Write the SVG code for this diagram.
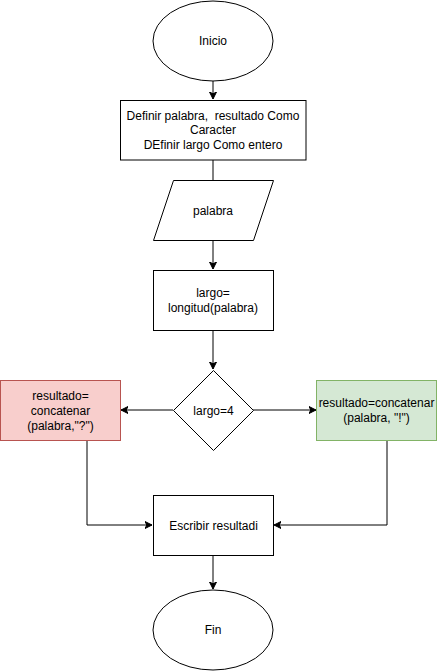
<svg xmlns="http://www.w3.org/2000/svg" width="437" height="671" viewBox="0 0 437 671">
<defs>
<style>
.s{fill:#fff;stroke:#000;stroke-width:1}
.t{font-family:"Liberation Sans",Arial,sans-serif;font-size:12px;fill:#000;text-anchor:middle;dominant-baseline:central}
.c{fill:none;stroke:#000;stroke-width:1}
</style>
<marker id="a" markerWidth="10" markerHeight="10" refX="7" refY="4" orient="auto" markerUnits="userSpaceOnUse">
<path d="M0,0.5 L7,4 L0,7.5 L1.8,4 Z" fill="#000" stroke="#000" stroke-width="1"/>
</marker>
</defs>
<rect width="437" height="671" fill="#fff"/>
<g id="connectors">
<path class="c" d="M213,81 V99" marker-end="url(#a)"/>
<path class="c" d="M213,160 V180"/>
<path class="c" d="M213,240 V269" marker-end="url(#a)"/>
<path class="c" d="M213,330 V369" marker-end="url(#a)"/>
<path class="c" d="M173,410 H121" marker-end="url(#a)"/>
<path class="c" d="M253,410 H316" marker-end="url(#a)"/>
<path class="c" d="M87,440 V525 H152" marker-end="url(#a)"/>
<path class="c" d="M387,440 V525 H274" marker-end="url(#a)"/>
<path class="c" d="M213,555 V589" marker-end="url(#a)"/>
</g>
<g id="inicio">
<ellipse class="s" cx="213" cy="41" rx="60" ry="40"/>
<text class="t" x="213" y="41">Inicio</text>
</g>
<g id="definir">
<rect class="s" x="120.5" y="100.5" width="185.5" height="59.5"/>
<text class="t" x="213" y="115.5" xml:space="preserve">Definir palabra,  resultado Como</text>
<text class="t" x="213" y="130">Caracter</text>
<text class="t" x="213" y="145">DEfinir largo Como entero</text>
</g>
<g id="leer">
<polygon class="s" points="173.5,180.5 273.5,180.5 253.5,240.5 153.5,240.5"/>
<text class="t" x="213" y="210.5">palabra</text>
</g>
<g id="largo">
<rect class="s" x="153.5" y="270.5" width="120" height="60"/>
<text class="t" x="213" y="292.5">largo=</text>
<text class="t" x="213" y="308">longitud(palabra)</text>
</g>
<g id="decision">
<polygon class="s" points="213.5,370.5 253.5,410.5 213.5,450.5 173.5,410.5"/>
<text class="t" x="213.5" y="410.5">largo=4</text>
</g>
<g id="no">
<rect x="0.5" y="380.5" width="120" height="60" fill="#f8cecc" stroke="#b85450"/>
<text class="t" x="60.5" y="395.5">resultado=</text>
<text class="t" x="60.5" y="410.5">concatenar</text>
<text class="t" x="60.5" y="425.5">(palabra,"?")</text>
</g>
<g id="si">
<rect x="316.5" y="380.5" width="120" height="60" fill="#d5e8d4" stroke="#82b366"/>
<text class="t" x="376.5" y="403">resultado=concatenar</text>
<text class="t" x="376.5" y="418">(palabra, "!")</text>
</g>
<g id="escribir">
<rect class="s" x="153.5" y="495.5" width="120" height="60"/>
<text class="t" x="213.5" y="525.5">Escribir resultadi</text>
</g>
<g id="fin">
<ellipse class="s" cx="213" cy="630" rx="60" ry="40"/>
<text class="t" x="213" y="630">Fin</text>
</g>
</svg>
